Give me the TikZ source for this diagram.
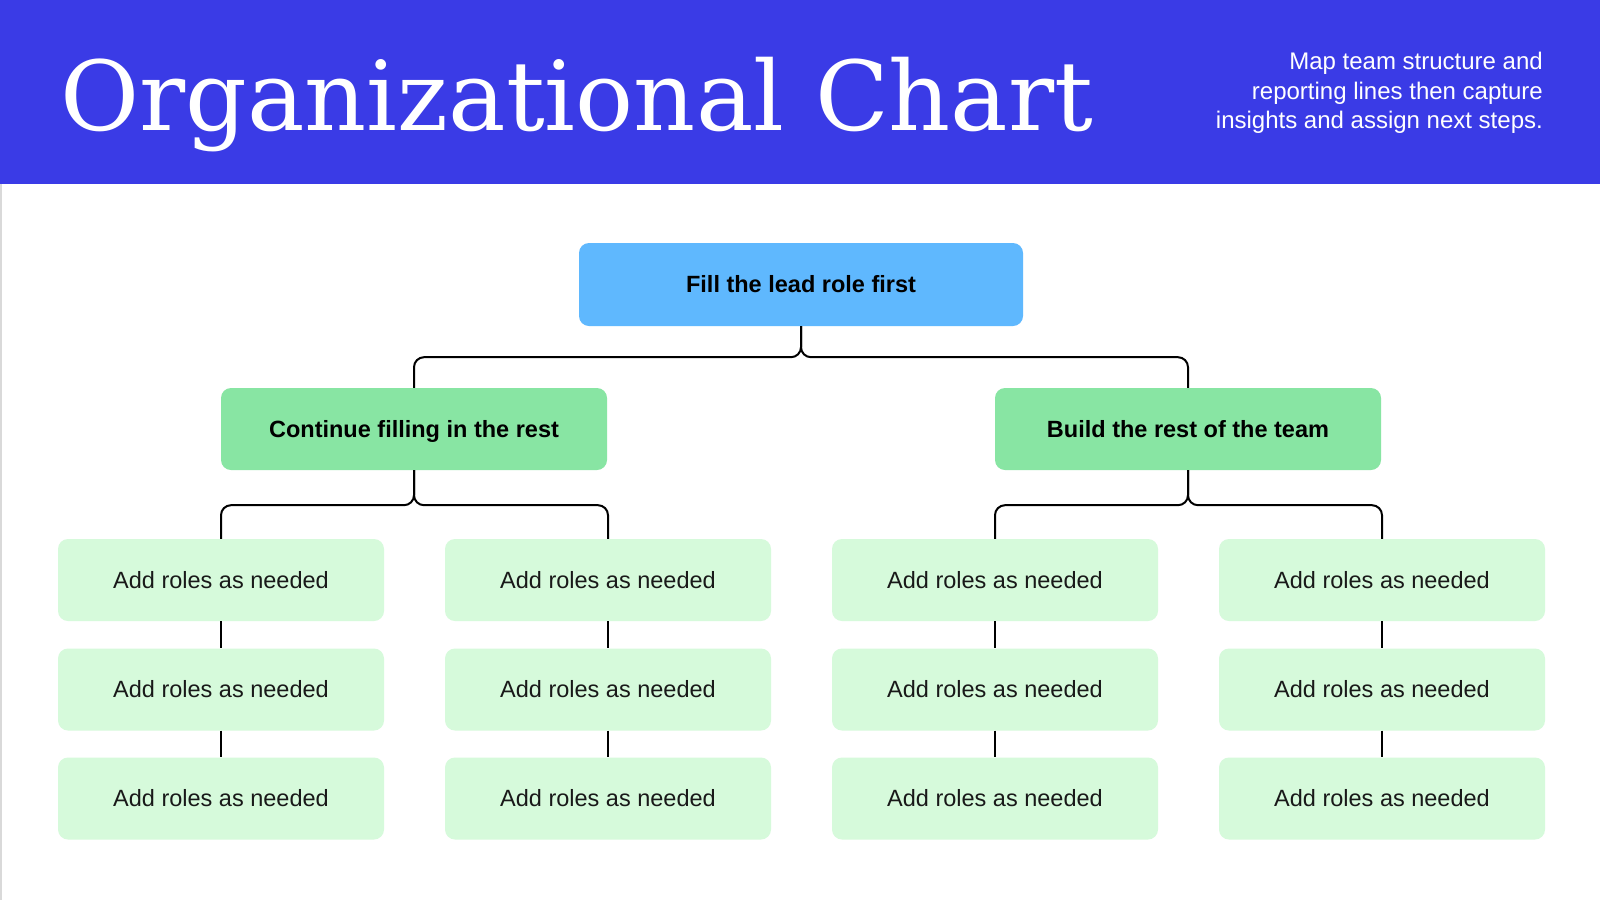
\documentclass[tikz,border=0pt]{standalone}
\usepackage{fontspec}
\setmainfont{Liberation Sans}
\newfontfamily\titlefont{DejaVu Serif}
\usepackage{tikz}
\usetikzlibrary{positioning}
\definecolor{headblue}{RGB}{58,59,230}
\definecolor{leadblue}{RGB}{95,184,254}
\definecolor{teamgreen}{RGB}{136,229,163}
\definecolor{rolegreen}{RGB}{214,250,219}
\tikzstyle{lead} = [rectangle, rounded corners=10pt, minimum width=444pt, minimum height=83pt, inner sep=0pt, text height=19pt, text depth=3pt, text centered, fill=leadblue, font=\fontsize{23.5}{28}\selectfont\bfseries]
\tikzstyle{team} = [rectangle, rounded corners=10pt, minimum width=386pt, minimum height=82pt, inner sep=0pt, text height=19pt, text depth=3pt, text centered, fill=teamgreen, font=\fontsize{23.5}{28}\selectfont\bfseries]
\tikzstyle{role} = [rectangle, rounded corners=10pt, minimum width=326pt, minimum height=82pt, inner sep=0pt, text height=19pt, text depth=3pt, text centered, fill=rolegreen, text=black!90, font=\fontsize{23.5}{28}\selectfont]
\tikzstyle{link} = [line width=2pt, rounded corners=10pt]

\begin{document}
\begin{tikzpicture}[x=1pt, y=-1pt]
    \useasboundingbox (0,0) rectangle (1600,900);
    \fill [white] (0,0) rectangle (1600,900);
    \fill [headblue] (0,0) rectangle (1600,184);
    \draw [black!15, line width=2.5pt] (1,184) -- (1,900);

    \node [anchor=base west, inner sep=0pt, text=white, font=\titlefont\fontsize{96.5}{110}\selectfont] at (60,130) (title) {Organizational Chart};
    \node [anchor=east, inner sep=0pt, align=right, text=white, font=\fontsize{24}{29.5}\selectfont] at (1543,93) (intro) {Map team structure and\\reporting lines then capture\\insights and assign next steps.};

    \node [lead] at (801,284.5) (fill) {Fill the lead role first};
    \node [team] at (414,429) (cont) {Continue filling in the rest};
    \node [team] at (1188,429) (build) {Build the rest of the team};

    \node [role] at (221,580) (a1) {Add roles as needed};
    \node [role] at (221,689.5) (a2) {Add roles as needed};
    \node [role] at (221,798.5) (a3) {Add roles as needed};
    \node [role] at (608,580) (b1) {Add roles as needed};
    \node [role] at (608,689.5) (b2) {Add roles as needed};
    \node [role] at (608,798.5) (b3) {Add roles as needed};
    \node [role] at (995,580) (c1) {Add roles as needed};
    \node [role] at (995,689.5) (c2) {Add roles as needed};
    \node [role] at (995,798.5) (c3) {Add roles as needed};
    \node [role] at (1382,580) (d1) {Add roles as needed};
    \node [role] at (1382,689.5) (d2) {Add roles as needed};
    \node [role] at (1382,798.5) (d3) {Add roles as needed};

    \draw [link] (fill.south) -- ++(0,31) -| (cont.north);
    \draw [link] (fill.south) -- ++(0,31) -| (build.north);
    \draw [link] (cont.south) -- ++(0,35) -| (a1.north);
    \draw [link] (cont.south) -- ++(0,35) -| (b1.north);
    \draw [link] (build.south) -- ++(0,35) -| (c1.north);
    \draw [link] (build.south) -- ++(0,35) -| (d1.north);
    \draw [link] (a1) -- (a2);
    \draw [link] (a2) -- (a3);
    \draw [link] (b1) -- (b2);
    \draw [link] (b2) -- (b3);
    \draw [link] (c1) -- (c2);
    \draw [link] (c2) -- (c3);
    \draw [link] (d1) -- (d2);
    \draw [link] (d2) -- (d3);
\end{tikzpicture}
\end{document}
